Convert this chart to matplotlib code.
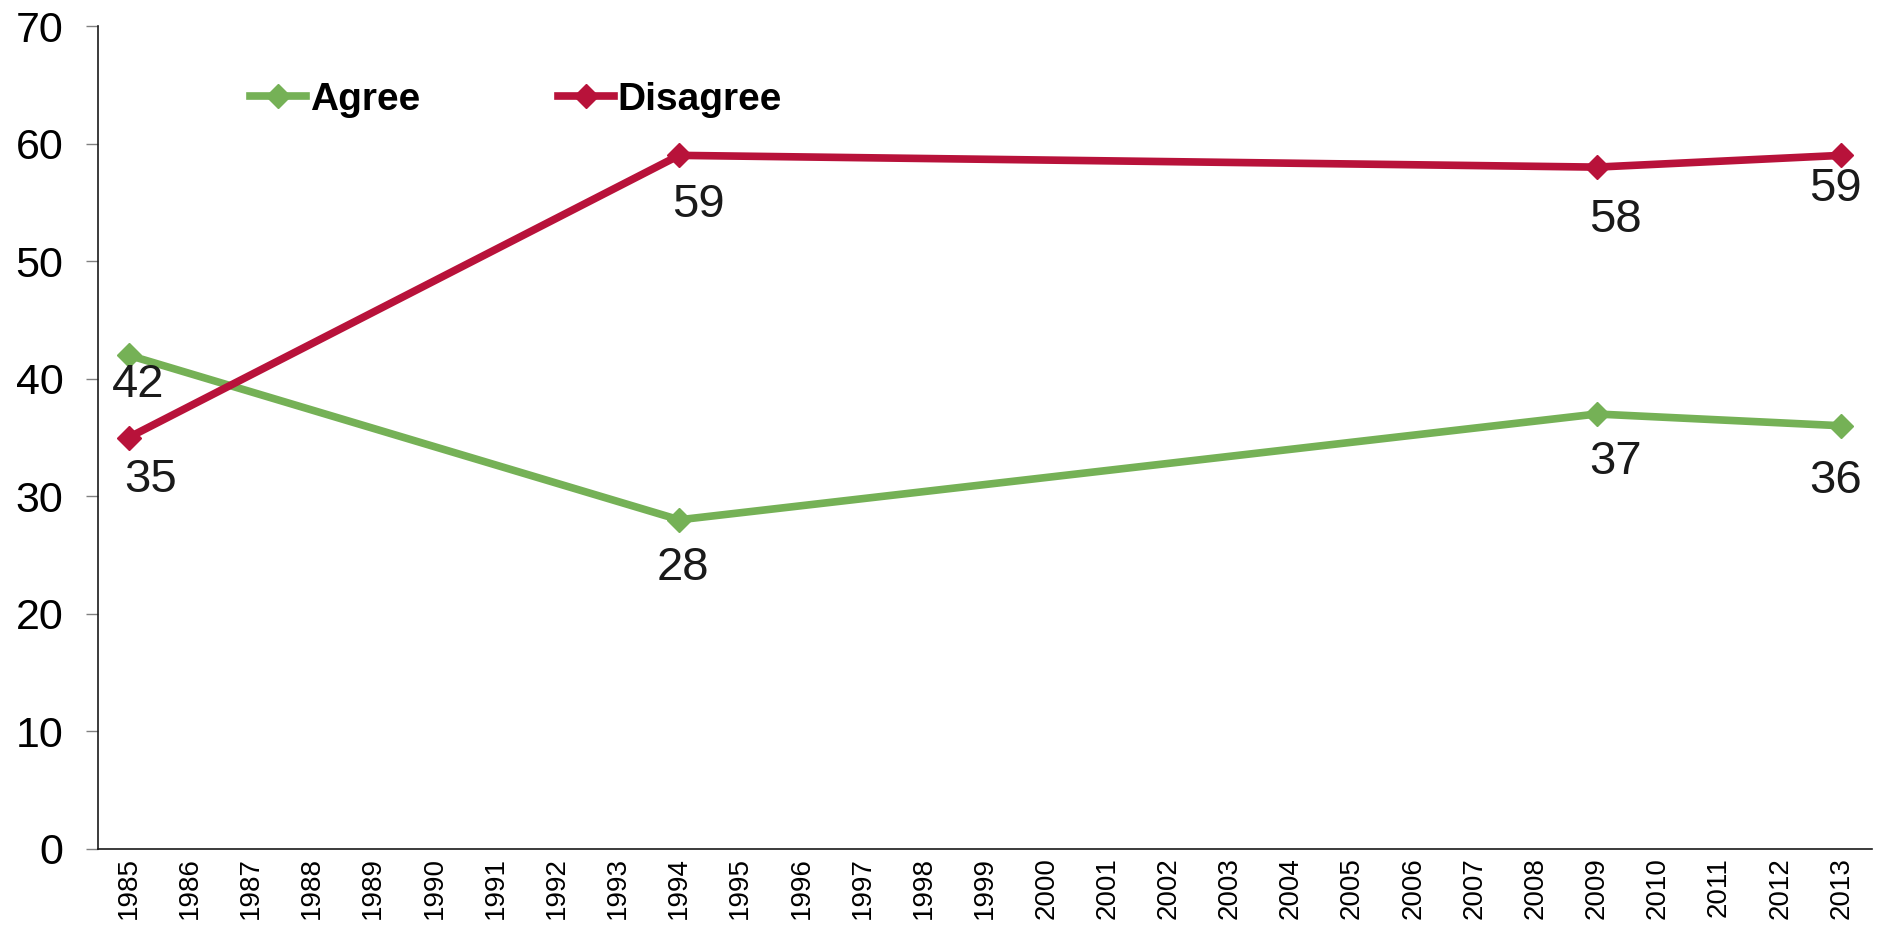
import numpy as np
import matplotlib.pyplot as plt

plt.rcParams['font.family'] = ['Liberation Sans', 'DejaVu Sans']

# data
years = [str(y) for y in range(1985, 2014)]
survey_years = ['1985', '1994', '2009', '2013']
agree = [42, 28, 37, 36]
disagree = [35, 59, 58, 59]

green = '#75B156'
red = '#B8123A'

# label nudges (pixels), Excel put them a bit unevenly
agree_off = [(10, -30), (4, -48), (19, -48), (-6, -55)]
disagree_off = [(22, -42), (19, -50), (19, -53), (-6, -34)]

fig = plt.figure(figsize=(18.78, 9.30), dpi=100)
ax = fig.add_axes([0.0522, 0.0871, 0.9446, 0.8849])

xpos = [years.index(y) for y in survey_years]
ax.plot(xpos, agree, color=green, lw=5.5, marker='D', ms=12.5, label='Agree')
ax.plot(xpos, disagree, color=red, lw=5.5, marker='D', ms=12.5, label='Disagree')

for x, v, off in zip(xpos, agree, agree_off):
    ax.annotate(str(v), (x, v), xytext=off, textcoords='offset pixels',
                ha='center', va='center', fontsize=34, color='#1a1a1a')
for x, v, off in zip(xpos, disagree, disagree_off):
    ax.annotate(str(v), (x, v), xytext=off, textcoords='offset pixels',
                ha='center', va='center', fontsize=34, color='#1a1a1a')

ax.set_xlim(-0.5, len(years) - 0.5)
ax.set_ylim(0, 70)
ax.set_xticks(range(len(years)))
ax.set_xticklabels(years, rotation=90, fontsize=20)
ax.set_yticks(range(0, 71, 10))
ax.tick_params(axis='y', labelsize=31, length=9, width=1, color='#808080', pad=16)
ax.tick_params(axis='x', length=0, pad=6)

for s in ['top', 'right']:
    ax.spines[s].set_visible(False)
for s in ['left', 'bottom']:
    ax.spines[s].set_color('#1a1a1a')
    ax.spines[s].set_linewidth(1.2)

leg = ax.legend(loc='upper left', bbox_to_anchor=(0.066, 0.975), ncol=2, frameon=False,
                prop={'weight': 'bold', 'size': 28}, handlelength=1.43, handletextpad=0.1,
                columnspacing=3.55)

plt.savefig('out.png', dpi=100)
